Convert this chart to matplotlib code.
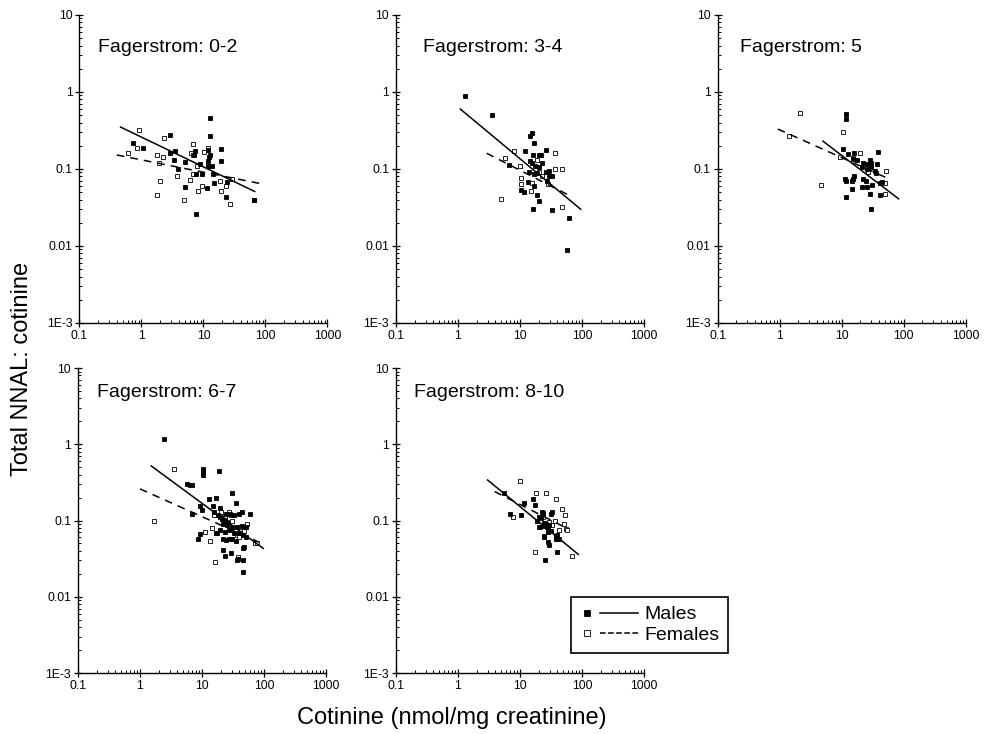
"""Five-panel log-log scatter: NNAL:cotinine ratio vs cotinine by Fagerstrom score."""
import matplotlib
matplotlib.use("Agg")
import matplotlib.pyplot as plt
from matplotlib.lines import Line2D
from matplotlib.legend_handler import HandlerBase
from matplotlib.ticker import FixedLocator, LogLocator, NullFormatter

plt.rcParams["font.family"] = ["Liberation Sans", "DejaVu Sans"]

titles = ["Fagerstrom: 0-2", "Fagerstrom: 3-4", "Fagerstrom: 5",
          "Fagerstrom: 6-7", "Fagerstrom: 8-10"]

# --- panel 1 (0-2)
p1_m_x = [12.8, 12.9, 2.9, 0.73, 1.07, 19, 3.5, 2.9, 7.1, 7.3, 11.8, 12.8, 12.5,
          3.4, 5.0, 11.7, 19, 8.8, 12, 13.5, 3.9, 9.6, 7.5, 14.5, 5.0, 11.3,
          14.9, 24, 23, 7.5, 66]
p1_m_y = [0.46, 0.27, 0.28, 0.22, 0.186, 0.18, 0.17, 0.16, 0.154, 0.17, 0.178,
          0.15, 0.143, 0.13, 0.122, 0.128, 0.128, 0.116, 0.11, 0.11, 0.1, 0.086,
          0.086, 0.087, 0.059, 0.056, 0.066, 0.068, 0.043, 0.026, 0.040]
p1_f_x = [0.9, 0.6, 0.85, 2.3, 1.8, 2.2, 1.9, 2.0, 1.8, 4.9, 3.8, 6.1, 6.7, 6.3,
          6.8, 8.0, 12, 10.2, 6.8, 8.3, 9.4, 18.6, 19, 23, 27, 29, 66]
p1_f_y = [0.32, 0.16, 0.19, 0.25, 0.152, 0.145, 0.12, 0.069, 0.046, 0.04, 0.082,
          0.072, 0.21, 0.16, 0.15, 0.11, 0.19, 0.165, 0.085, 0.052, 0.06, 0.07,
          0.051, 0.06, 0.035, 0.074, 0.040]
p1_m_fit = ([0.46, 67], [0.35, 0.051])
p1_f_fit = ([0.40, 88], [0.152, 0.064])

# --- panel 2 (3-4)
p2_m_x = [1.31, 3.6, 15.6, 14.5, 17, 26, 12, 16.5, 19.9, 21.6, 14.3, 15.5, 23,
          17.5, 20.2, 6.6, 29.7, 26.5, 14.1, 16.6, 18.7, 32.5, 29.7, 27.2, 13.4,
          16.9, 10.4, 11.4, 19, 20.5, 16, 33, 62, 58]
p2_m_y = [0.88, 0.50, 0.295, 0.27, 0.216, 0.177, 0.17, 0.15, 0.154, 0.154, 0.128,
          0.12, 0.12, 0.11, 0.107, 0.114, 0.095, 0.092, 0.09, 0.086, 0.089, 0.080,
          0.080, 0.070, 0.067, 0.06, 0.054, 0.05, 0.046, 0.038, 0.030, 0.029,
          0.023, 0.0088]
p2_f_x = [7.9, 5.7, 10, 10.2, 10.2, 4.9, 15, 15.5, 18.5, 22.4, 20.5, 37, 48, 37,
          48, 28.5]
p2_f_y = [0.17, 0.14, 0.11, 0.076, 0.063, 0.041, 0.051, 0.066, 0.13, 0.082, 0.09,
          0.16, 0.1, 0.1, 0.032, 0.063]
p2_m_fit = ([1.09, 95], [0.60, 0.030])
p2_f_fit = ([2.9, 67], [0.16, 0.044])

# --- panel 3 (5)
p3_m_x = [12, 12, 10.5, 12.7, 15.8, 38, 15.5, 17.5, 22.4, 25.4, 30, 37, 28.5,
          21.2, 25.4, 30, 34, 35.9, 11.5, 11.7, 16, 15.1, 14.7, 22.4, 24.5, 21,
          14.5, 25.4, 31, 44.4, 42, 12, 28.5, 42, 30]
p3_m_y = [0.51, 0.45, 0.18, 0.155, 0.16, 0.165, 0.135, 0.13, 0.119, 0.116, 0.119,
          0.116, 0.13, 0.105, 0.101, 0.105, 0.093, 0.088, 0.074, 0.070, 0.08,
          0.074, 0.070, 0.074, 0.070, 0.058, 0.055, 0.058, 0.062, 0.067, 0.065,
          0.043, 0.047, 0.046, 0.030]
p3_f_x = [2.1, 10.7, 1.4, 4.6, 9.4, 15.5, 19.8, 53, 27, 51, 51]
p3_f_y = [0.54, 0.30, 0.27, 0.061, 0.145, 0.14, 0.16, 0.095, 0.092, 0.065, 0.047]
p3_m_fit = ([5.0, 83], [0.23, 0.041])
p3_f_fit = ([0.94, 59], [0.33, 0.074])

# --- panel 4 (6-7)
p4_m_x = [2.44, 10.4, 10.2, 10.2, 19, 5.8, 6.4, 7.0, 30, 13, 16.6, 34.9, 9.3, 15,
          19.5, 10, 7.0, 44.7, 60, 15.6, 18.1, 19.5, 21.3, 23.2, 25.6, 24.1, 28.3,
          32.8, 39.5, 22.1, 25.6, 30.8, 37.1, 44.7, 50.6, 19.5, 23.2, 27.2, 32.8,
          39.5, 46.4, 50.6, 16.6, 17.7, 8.6, 9.3, 22.1, 24.7, 27.2, 30.8, 34.9,
          47.5, 46.4, 21.8, 23.5, 29, 36.2, 38, 46.4, 45.8]
p4_m_y = [1.16, 0.48, 0.45, 0.39, 0.45, 0.30, 0.29, 0.29, 0.23, 0.19, 0.20, 0.17,
          0.154, 0.154, 0.144, 0.137, 0.12, 0.13, 0.12, 0.13, 0.117, 0.112, 0.106,
          0.101, 0.096, 0.121, 0.121, 0.117, 0.12, 0.091, 0.087, 0.083, 0.081,
          0.084, 0.081, 0.076, 0.071, 0.075, 0.069, 0.068, 0.064, 0.061, 0.068,
          0.069, 0.058, 0.066, 0.058, 0.055, 0.058, 0.058, 0.054, 0.045, 0.043,
          0.041, 0.034, 0.038, 0.030, 0.031, 0.030, 0.021]
p4_f_x = [3.6, 1.7, 16.2, 11.2, 13.7, 14.5, 15.6, 20, 27.2, 29, 23.2, 30.8, 41,
          47.5, 53, 38, 36.2, 39.5, 71.6, 78]
p4_f_y = [0.47, 0.099, 0.029, 0.070, 0.054, 0.08, 0.117, 0.13, 0.13, 0.117, 0.112,
          0.1, 0.083, 0.073, 0.089, 0.033, 0.064, 0.061, 0.05, 0.051]
p4_m_fit = ([1.52, 97.5], [0.52, 0.043])
p4_f_fit = ([1.0, 83], [0.26, 0.052])

# --- panel 5 (8-10)
p5_m_x = [5.5, 11.6, 16.2, 17.2, 7.0, 10.5, 22.5, 23.4, 32.6, 31.6, 20.5, 21.7,
          18.7, 24.7, 26, 23.4, 28, 20.5, 24.7, 24, 28.5, 40, 37.5, 42, 37.8, 28,
          29.8, 39.6, 25.5, 27.5, 29.8, 32]
p5_m_y = [0.23, 0.17, 0.19, 0.16, 0.12, 0.117, 0.13, 0.127, 0.13, 0.12, 0.11,
          0.107, 0.098, 0.093, 0.09, 0.085, 0.085, 0.081, 0.063, 0.061, 0.071,
          0.064, 0.061, 0.058, 0.058, 0.052, 0.048, 0.039, 0.030, 0.082, 0.088,
          0.072]
p5_f_x = [9.9, 18.3, 26.4, 38, 47.6, 53, 7.7, 17.2, 68, 23.4, 29.9, 33, 37, 43,
          52, 55, 58, 21, 28]
p5_f_y = [0.33, 0.23, 0.23, 0.19, 0.14, 0.117, 0.11, 0.039, 0.034, 0.112, 0.096,
          0.087, 0.1, 0.076, 0.089, 0.078, 0.075, 0.083, 0.075]
p5_m_fit = ([3.0, 87], [0.34, 0.036])
p5_f_fit = ([3.9, 59], [0.24, 0.078])

panels = [
    (p1_m_x, p1_m_y, p1_f_x, p1_f_y, p1_m_fit, p1_f_fit),
    (p2_m_x, p2_m_y, p2_f_x, p2_f_y, p2_m_fit, p2_f_fit),
    (p3_m_x, p3_m_y, p3_f_x, p3_f_y, p3_m_fit, p3_f_fit),
    (p4_m_x, p4_m_y, p4_f_x, p4_f_y, p4_m_fit, p4_f_fit),
    (p5_m_x, p5_m_y, p5_f_x, p5_f_y, p5_m_fit, p5_f_fit),
]

x_ticks = [0.1, 1, 10, 100, 1000]
x_ticklabels = ["0.1", "1", "10", "100", "1000"]
y_ticks = [1e-3, 0.01, 0.1, 1, 10]
y_ticklabels = ["1E-3", "0.01", "0.1", "1", "10"]

# axes rectangles in figure fractions, and title anchor in axes fractions
rects = [
    (0.0805, 0.560, 0.2513, 0.4196),
    (0.4012, 0.560, 0.2513, 0.4196),
    (0.7270, 0.560, 0.2513, 0.4196),
    (0.0790, 0.0831, 0.2513, 0.4155),
    (0.4012, 0.0831, 0.2513, 0.4155),
]
title_pos = [(0.073, 0.893), (0.109, 0.893), (0.089, 0.893),
             (0.077, 0.921), (0.073, 0.921)]

DASH = (0, (5, 4))

fig = plt.figure(figsize=(9.87, 7.34), dpi=100)

for i, (mx, my, fx, fy, mfit, ffit) in enumerate(panels):
    ax = fig.add_axes(rects[i])
    ax.set_xscale("log")
    ax.set_yscale("log")
    ax.set_xlim(0.1, 1000)
    ax.set_ylim(1e-3, 10)

    ax.plot(fx, fy, "s", ms=3.4, mfc="white", mec="black", mew=0.6,
            linestyle="none")
    ax.plot(mx, my, "s", ms=3.4, mfc="black", mec="black", mew=0.6,
            linestyle="none")
    ax.plot(*mfit, "-", color="black", lw=1.1)
    ax.plot(*ffit, color="black", lw=1.1, linestyle=DASH)

    ax.spines["top"].set_visible(False)
    ax.spines["right"].set_visible(False)
    for s in ("left", "bottom"):
        ax.spines[s].set_linewidth(1.0)

    ax.xaxis.set_major_locator(FixedLocator(x_ticks))
    ax.set_xticklabels(x_ticklabels)
    ax.yaxis.set_major_locator(FixedLocator(y_ticks))
    ax.set_yticklabels(y_ticklabels)
    ax.xaxis.set_minor_locator(LogLocator(base=10, subs=range(2, 10), numticks=20))
    ax.yaxis.set_minor_locator(LogLocator(base=10, subs=range(2, 10), numticks=20))
    ax.xaxis.set_minor_formatter(NullFormatter())
    ax.yaxis.set_minor_formatter(NullFormatter())
    ax.tick_params(which="major", direction="inout", length=6, width=0.9,
                   labelsize=8.8, pad=2)
    ax.tick_params(which="minor", direction="in", length=2.5, width=0.7)

    tx, ty = title_pos[i]
    ax.text(tx, ty, titles[i], transform=ax.transAxes, fontsize=14,
            ha="left", va="center")

fig.text(0.022, 0.497, "Total NNAL: cotinine", rotation=90, fontsize=17,
         ha="center", va="center")
fig.text(0.458, 0.022, "Cotinine (nmol/mg creatinine)", fontsize=17,
         ha="center", va="center")


class MarkerThenLine(HandlerBase):
    """Legend entry drawn as: marker, gap, short line."""

    def create_artists(self, legend, orig_handle, xdescent, ydescent,
                       width, height, fontsize, trans):
        mk, ln = orig_handle
        y = height / 2 - ydescent
        x0 = -xdescent
        m = Line2D([x0 + 0.12 * width], [y], marker="s", ms=mk.get_markersize(),
                   mfc=mk.get_markerfacecolor(), mec="black", mew=0.6,
                   linestyle="none", transform=trans)
        l = Line2D([x0 + 0.35 * width, x0 + width], [y, y], color="black",
                   lw=ln.get_linewidth(), linestyle=ln.get_linestyle(),
                   transform=trans)
        return [m, l]


male_h = (Line2D([], [], marker="s", ms=3.8, mfc="black"),
          Line2D([], [], color="black", lw=1.1))
female_h = (Line2D([], [], marker="s", ms=3.8, mfc="white"),
            Line2D([], [], color="black", lw=1.1, linestyle=(0, (3, 2.5))))
leg = fig.legend([male_h, female_h], ["Males", "Females"],
                 handler_map={tuple: MarkerThenLine()},
                 loc="upper left", bbox_to_anchor=(0.5785, 0.1866),
                 borderaxespad=0, fontsize=14, handlelength=3.0,
                 handletextpad=0.3, labelspacing=0.15, borderpad=0.45,
                 fancybox=False, framealpha=1, edgecolor="black")
leg.get_frame().set_linewidth(1.2)

fig.savefig("out.png", dpi=100)
